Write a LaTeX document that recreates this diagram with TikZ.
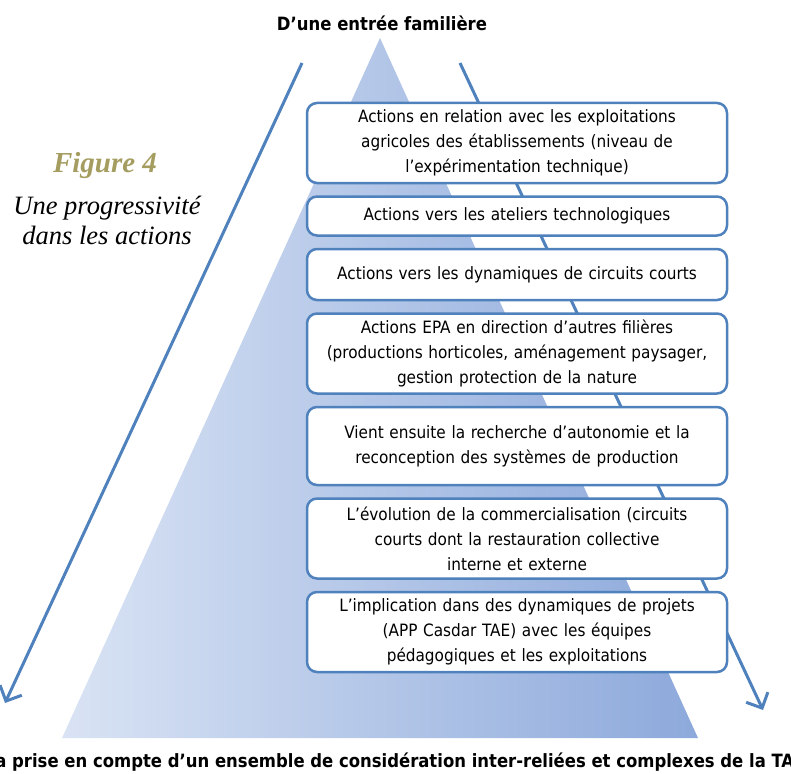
\documentclass[tikz,border=0pt]{standalone}
\usepackage{fontspec}
\setmainfont{DejaVu Sans Condensed}
\newfontfamily\figfont{Liberation Serif}
\usepackage{tikz}
\usetikzlibrary{positioning}
\usetikzlibrary{arrows.meta}

\definecolor{arrowblue}{HTML}{4F81BD}
\definecolor{figolive}{HTML}{A59D60}
\definecolor{trilight}{HTML}{D9E3F4}
\definecolor{tridark}{HTML}{8DA9DB}

\tikzset{
  actionbox/.style={draw=arrowblue, line width=2.5pt, fill=white, rounded corners=10pt,
    text width=410pt, inner xsep=5pt, inner ysep=0pt, align=center,
    font=\fontsize{17}{25}\selectfont},
  trendarrow/.style={draw=arrowblue, line width=3pt, -{Straight Barb[length=12pt, width=24pt]}}
}

\begin{document}
\begin{tikzpicture}[x=1pt, y=-1pt, node distance=11pt]
\useasboundingbox (0,0) rectangle (791,773);
\shade[left color=trilight, right color=tridark] (380,38) -- (698,738) -- (62,738) -- cycle;
\coordinate (lefttop) at (302,63);
\coordinate (leftend) at (5,703);
\coordinate (righttop) at (460,63);
\coordinate (rightend) at (763,710);
\draw[trendarrow] (righttop) -- (rightend);
\draw[trendarrow] (lefttop) -- (leftend);
\node[anchor=base, font=\bfseries\fontsize{18.3}{20}\selectfont] (entry) at (382,31) {D’une entrée familière};
\node[actionbox, minimum height=80pt] (act1) at (517,143) {Actions en relation avec les exploitations\\agricoles des établissements (niveau de\\l’expérimentation technique)};
\node[actionbox, minimum height=39pt, below=of act1] (act2) {Actions vers les ateliers technologiques};
\node[actionbox, minimum height=51pt, below=of act2] (act3) {Actions vers les dynamiques de circuits courts};
\node[actionbox, minimum height=80pt, below=of act3] (act4) {Actions EPA en direction d’autres filières\\(productions horticoles, aménagement paysager,\\gestion protection de la nature};
\node[actionbox, minimum height=78pt, below=of act4] (act5) {Vient ensuite la recherche d’autonomie et la\\reconception des systèmes de production};
\node[actionbox, minimum height=80pt, below=of act5] (act6) {L’évolution de la commercialisation (circuits\\courts dont la restauration collective\\interne et externe};
\node[actionbox, minimum height=80pt, below=of act6] (act7) {L’implication dans des dynamiques de projets\\(APP Casdar TAE) avec les équipes\\pédagogiques et les exploitations};
\node[font=\figfont\itshape\bfseries\fontsize{29}{32}\selectfont, text=figolive, anchor=base] (fignum) at (105,172) {Figure 4};
\node[font=\figfont\itshape\fontsize{26.5}{30}\selectfont, align=center] (figtitle) at (107,220) {Une progressivité\\dans les actions};
\node[anchor=base west, inner sep=0pt, font=\bfseries\fontsize{18.3}{20}\selectfont] (tae) at (12,767) {\llap{à la }prise en compte d’un ensemble de considération inter-reliées et complexes de la TAE};
\end{tikzpicture}
\end{document}
